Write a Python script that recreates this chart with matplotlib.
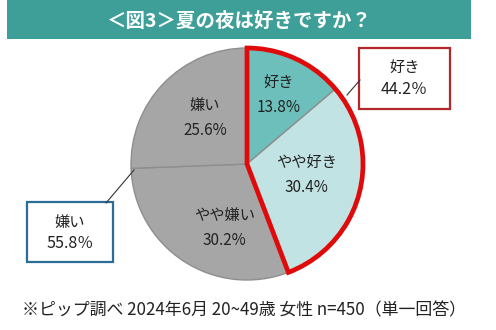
import matplotlib.pyplot as plt
from matplotlib.patches import Rectangle, Wedge

plt.rcParams['font.family'] = ['Noto Sans CJK JP', 'DejaVu Sans']

# answers, clockwise from 12 o'clock
answers = ["好き", "やや好き", "やや嫌い", "嫌い"]
shares = [13.8, 30.4, 30.2, 25.6]
like_total = 44.2
dislike_total = 55.8

title = "＜図3＞夏の夜は好きですか？"
note = "※ピップ調べ 2024年6月 20~49歳 女性 n=450（単一回答）"

W, H = 496, 330
fig = plt.figure(figsize=(W / 100, H / 100), dpi=100)
ax = fig.add_axes([0, 0, 1, 1])


def py(y):
    # pixel rows counted from the top
    return H - y


cx, cy, r = 247, py(164), 116
colors = ["#6cbfba", "#c2e3e3", "#a6a6a6", "#a6a6a6"]
wedges, texts = ax.pie(
    shares,
    labels=[f"{a}\n{v}%" for a, v in zip(answers, shares)],
    colors=colors,
    startangle=90,
    counterclock=False,
    center=(cx, cy),
    radius=r,
    labeldistance=0.6,
    wedgeprops=dict(edgecolor="#8e8e8e", linewidth=1.0),
    textprops=dict(fontsize=11, color="#222222", linespacing=1.6),
)
# pie() resets the limits, so set the pixel frame afterwards
ax.set_xlim(0, W)
ax.set_ylim(0, H)
ax.set_aspect("equal")
ax.axis("off")

# nudge the labels toward their spots inside the slices
nudges = [(2, 6), (-8, 6), (16, -6), (8, -2)]
for t, (dx, dy) in zip(texts, nudges):
    x, y = t.get_position()
    t.set_position((x + dx, y + dy))
    t.set_ha("center")
    t.set_va("center")

# red outline around the "like" group
like_angle = like_total / 100 * 360
ax.add_patch(Wedge((cx, cy), r, 90 - like_angle, 90, fill=False,
                   edgecolor="#e00a0a", linewidth=3.4, joinstyle="miter"))

# title banner
ax.add_patch(Rectangle((7, py(39)), 464, 39, facecolor="#3d9f97", edgecolor="none"))
ax.text(239, py(21), title, ha="center", va="center", fontsize=14,
        fontweight="bold", color="white")

# callout: like
ax.add_patch(Rectangle((359, py(109)), 91, 61, facecolor="white",
                       edgecolor="#b3262b", linewidth=1.6))
ax.plot([347, 360], [py(95), py(80)], color="#333333", linewidth=0.8)
ax.text(404.5, py(67), "好き", ha="center", va="center", fontsize=11, color="#222222")
ax.text(404.5, py(90), f"{like_total}％", ha="center", va="center",
        fontsize=11.5, color="#222222")

# callout: dislike
ax.add_patch(Rectangle((27, py(262)), 86, 60, facecolor="white",
                       edgecolor="#2c6d97", linewidth=1.6))
ax.plot([106, 134], [py(203), py(170)], color="#333333", linewidth=0.8)
ax.text(70, py(222), "嫌い", ha="center", va="center", fontsize=11, color="#222222")
ax.text(70, py(244), f"{dislike_total}％", ha="center", va="center",
        fontsize=11.5, color="#222222")

ax.text(244, py(310), note, ha="center", va="center", fontsize=12.2, color="#222222")

fig.savefig("out.png", dpi=100, facecolor="white")
